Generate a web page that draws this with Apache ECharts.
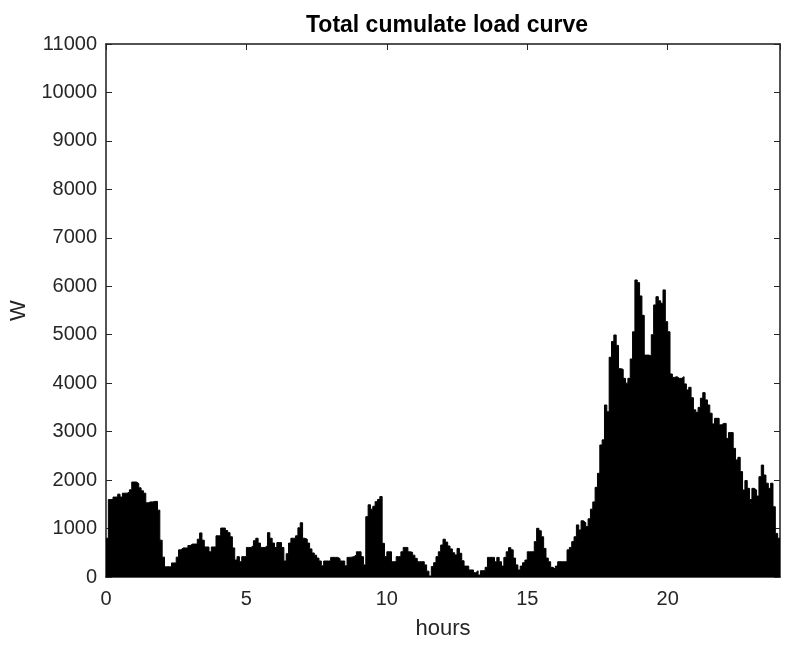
<!DOCTYPE html>
<html>
<head>
<meta charset="utf-8">
<title>Total cumulate load curve</title>
<script src="https://cdn.jsdelivr.net/npm/echarts@6/dist/echarts.min.js"></script>
<style>
  html, body { margin: 0; padding: 0; background: #fff; }
  #chart { width: 786px; height: 646px; }
</style>
</head>
<body>
<div id="chart"></div>
<script>
// Household load sampled every 5 minutes (W), one block per 6 hours
const STEP_MINUTES = 5;

const loadNight = [
  800, 1600, 1600, 1650, 1650, 1710, 1650, 1730, 1730, 1750, 1800, 1960,
  1960, 1930, 1840, 1780, 1730, 1530, 1550, 1550, 1560, 1560, 1380, 760,
  410, 210, 210, 210, 290, 290, 410, 560, 600, 600, 600, 650,
  680, 680, 680, 780, 910, 760, 620, 620, 520, 620, 620, 850,
  850, 1010, 1010, 960, 915, 830, 600, 350, 420, 315, 420, 420,
  610, 610, 650, 750, 800, 700, 610, 610, 650, 915, 800, 700
];

const loadMorning = [
  610, 710, 710, 610, 330, 480, 700, 800, 800, 850, 1015, 1120,
  800, 780, 700, 580, 495, 450, 390, 330, 230, 330, 330, 330,
  405, 405, 405, 380, 330, 330, 230, 405, 410, 420, 460, 520,
  520, 420, 250, 1245, 1490, 1400, 1460, 1555, 1600, 1660, 695, 420,
  520, 520, 315, 315, 420, 420, 520, 610, 610, 520, 510, 450,
  385, 315, 315, 315, 250, 120, 20, 215, 295, 420, 520, 660
];

const loadAfternoon = [
  780, 720, 640, 580, 500, 455, 590, 490, 335, 225, 225, 145,
  145, 90, 130, 40, 130, 130, 200, 405, 405, 405, 315, 405,
  315, 225, 405, 520, 605, 560, 390, 250, 145, 225, 295, 350,
  520, 520, 520, 730, 1005, 955, 830, 590, 390, 315, 200, 160,
  225, 315, 315, 315, 315, 560, 610, 730, 830, 1075, 970, 1160,
  1120, 1040, 1200, 1400, 1550, 1850, 2140, 2725, 2830, 3550, 3410, 4535
];

const loadEvening = [
  4860, 4995, 4780, 4300, 4285, 4100, 4000, 4100, 4500, 5060, 6130, 6075,
  5800, 5400, 4580, 4580, 4560, 5000, 5615, 5785, 5700, 5650, 5925, 5270,
  5060, 4190, 4120, 4135, 4100, 4100, 4135, 3985, 3860, 3915, 3700, 3450,
  3400, 3500, 3690, 3805, 3655, 3550, 3380, 3160, 3275, 3275, 3140, 3170,
  3170, 2860, 2980, 2980, 2655, 2415, 2470, 2175, 1795, 1990, 1830, 1600,
  1830, 1795, 1670, 2070, 2310, 2105, 1935, 1830, 1935, 1450, 900, 800
];

// Axis settings
const hourMin = 0, hourMax = 24, hourInterval = 5;
const wattMin = 0, wattMax = 11000, wattInterval = 1000;

const load = loadNight.concat(loadMorning, loadAfternoon, loadEvening);

// Each sample holds until the next one; the last sample closes the day.
const seriesData = load.map((w, i) => [i * STEP_MINUTES / 60, w]);
seriesData.push([load.length * STEP_MINUTES / 60, load[load.length - 1]]);

const FONT = "'Liberation Sans', Arial, Helvetica, sans-serif";
const AXIS_COLOR = '#262626';

// Shared look for the four sides of the box: plain line, ticks pointing in
function boxAxis(extra) {
  return Object.assign({
    axisLine: { show: true, onZero: false, lineStyle: { color: '#1a1a1a', width: 1.5 } },
    axisTick: { show: true, inside: true, length: 6, lineStyle: { color: AXIS_COLOR } },
    splitLine: { show: false }
  }, extra);
}

const chart = echarts.init(document.getElementById('chart'), null, { renderer: 'canvas' });

chart.setOption({
  animation: false,
  backgroundColor: '#fff',
  title: {
    text: 'Total cumulate load curve',
    left: 442,
    textAlign: 'center',
    top: 9,
    textStyle: { fontFamily: FONT, fontSize: 23, fontWeight: 'bold', color: '#000' }
  },
  grid: { left: 104, right: 6, top: 44, bottom: 69, containLabel: false },
  xAxis: [
    boxAxis({
      type: 'value', min: hourMin, max: hourMax, interval: hourInterval,
      position: 'bottom',
      name: 'hours', nameLocation: 'middle', nameGap: 41,
      nameTextStyle: { fontFamily: FONT, fontSize: 22, color: AXIS_COLOR },
      axisLabel: { fontFamily: FONT, fontSize: 20, color: AXIS_COLOR, margin: 12, showMaxLabel: false }
    }),
    boxAxis({
      type: 'value', min: hourMin, max: hourMax, interval: hourInterval,
      position: 'top',
      axisLabel: { show: false }
    })
  ],
  yAxis: [
    boxAxis({
      type: 'value', min: wattMin, max: wattMax, interval: wattInterval,
      position: 'left',
      name: 'W', nameLocation: 'middle', nameGap: 76,
      nameTextStyle: { fontFamily: FONT, fontSize: 22, color: AXIS_COLOR },
      axisLabel: {
        fontFamily: FONT, fontSize: 20, color: AXIS_COLOR, margin: 9,
        formatter: v => String(v)
      }
    }),
    boxAxis({
      type: 'value', min: wattMin, max: wattMax, interval: wattInterval,
      position: 'right',
      axisLabel: { show: false }
    })
  ],
  series: [{
    type: 'line',
    name: 'load',
    xAxisIndex: 0,
    yAxisIndex: 0,
    data: seriesData,
    step: 'end',
    showSymbol: false,
    symbol: 'none',
    lineStyle: { color: '#000', width: 1 },
    areaStyle: { color: '#000', opacity: 1 },
    z: 1
  }]
});
</script>
</body>
</html>
